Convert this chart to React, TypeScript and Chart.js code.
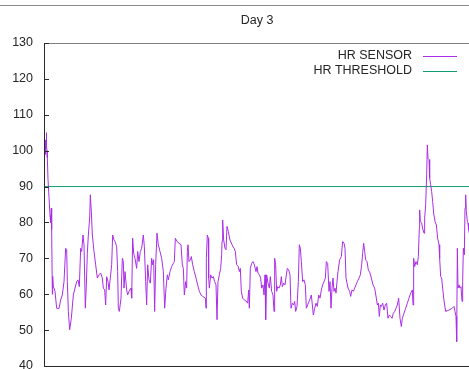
import React, { useEffect, useRef } from 'react';
import { Chart, registerables } from 'chart.js';

Chart.register(...registerables);

const TITLE = 'Day 3';
const SENSOR_LABEL = 'HR SENSOR';
const THRESHOLD_LABEL = 'HR THRESHOLD';
const THRESHOLD = 90;
const Y_MIN = 40;
const Y_MAX = 130;
const Y_STEP = 10;
const X_MIN = 0;
const X_MAX = 1290;

const minute = [
  3, 4, 5, 6, 7, 8, 9, 10, 12, 15,
  18, 20, 22, 23, 25, 26, 28, 30, 33, 38,
  45, 50, 55, 60, 65, 68, 70, 73, 77, 82,
  88, 93, 98, 102, 106, 110, 113, 117, 120, 124,
  127, 130, 133, 137, 139, 142, 145, 150, 155, 160,
  165, 170, 175, 178, 182, 185, 188, 192, 195, 200,
  203, 206, 210,
  213, 218, 221, 223, 226, 231, 235, 238, 240, 243,
  248, 251, 255, 261, 263, 266, 269, 273, 278, 281,
  285, 289, 293, 298, 301, 305, 308, 311, 315, 319,
  323, 326, 329, 332, 335, 339, 343, 348, 353, 358,
  362, 366, 370, 373, 378, 383, 388, 391, 394, 399,
  405, 411, 415, 418, 421, 425,
  428, 430, 432, 435, 439, 442, 446, 451, 456, 461,
  466, 471, 476, 484, 486, 487, 490, 493, 494, 496,
  500, 504, 508, 512, 516, 519, 522, 526, 530, 533,
  534, 536, 539, 543, 546, 549, 553, 558, 564, 570,
  574, 578, 583, 586, 589, 592, 596, 601, 606, 611,
  614, 616, 619, 623, 627, 631, 636,
  639, 642, 646, 650, 653, 657, 660, 663, 665, 668,
  672, 676, 679, 683, 687, 690, 692, 695, 698, 701,
  705, 709, 712, 715, 719, 723, 727, 730, 734, 738,
  741, 745, 749, 752, 755, 759, 763, 766, 769, 772,
  776, 780, 784, 787, 791, 795, 799, 802, 805, 808,
  812, 816, 820, 824, 828, 832, 836, 840, 844, 847,
  851,
  855, 858, 861, 864, 867, 870, 873, 876, 879, 882,
  887, 892, 896, 900, 903, 906, 909, 912, 917, 920,
  924, 928, 932, 936, 940, 945, 949, 953, 956, 959,
  962, 965, 969, 973, 978, 982, 987, 992, 997, 1000,
  1003, 1006, 1009, 1012, 1016, 1020, 1024, 1028, 1032, 1036,
  1040, 1044, 1048, 1052, 1056, 1060,
  1064, 1068, 1072, 1075, 1080, 1085, 1090, 1095, 1100, 1105,
  1107, 1109, 1112, 1116, 1120, 1123, 1126, 1127, 1129, 1133,
  1137, 1140, 1142, 1145, 1148, 1150, 1152, 1155, 1157, 1160,
  1163, 1166, 1169, 1173, 1177, 1181, 1185, 1187, 1190, 1193,
  1196, 1199, 1202, 1205, 1215, 1225, 1230, 1233, 1236, 1238,
  1240, 1242, 1245, 1248, 1251, 1254, 1256, 1258, 1261, 1263,
  1265, 1267, 1270, 1272, 1274, 1278,
];

const hr = [
  100, 103, 99, 102, 105, 101, 100, 98, 92, 87,
  82, 80, 84, 78, 60, 65, 62, 61.7, 60.8, 56.1,
  56, 58.4, 59.8, 63.5, 72.8, 72.4, 63.5, 55.2, 50.1, 53.3,
  59.8, 61.7, 63.5, 64, 62.1, 72.8, 71.9, 76.5, 73.8, 56.1,
  62.6, 71.4, 76.5, 81.2, 87.7, 83, 76.5, 71.9, 68.2, 64.5,
  65.4, 65.9, 64.5, 61.7, 61.2, 57, 64.9, 63.5, 61.2, 65.4,
  68.2, 76.5, 75.1,
  74.7, 73.3, 66.3, 56.1, 55.2, 58.9, 70, 69.1, 61.7, 66.3,
  61.2, 59.8, 60.8, 61.7, 58.9, 75.6, 71.4, 70, 67.2, 71.9,
  69.1, 71.9, 72.8, 76.5, 73.3, 63.5, 57, 68.2, 64, 63.1,
  70, 68.2, 69.6, 55.2, 68.2, 77, 73.8, 71.9, 70, 66.3,
  56.1, 61.7, 65.4, 64, 66.3, 67.7, 68.6, 69.1, 75.6, 74.7,
  74.2, 73.8, 68.2, 67.2, 59.8, 63.5,
  61.7, 71.9, 73.8, 69.1, 69.6, 70.5, 68.2, 66.3, 64.5, 62.6,
  60.8, 59.8, 59.4, 58.9, 56.1, 70, 76.5, 75.6, 64.5, 61.7,
  65.4, 64.5, 64.9, 63.5, 62.6, 52.9, 63.5, 65.4, 67.2, 71,
  74.7, 80.7, 75.1, 72.8, 72.4, 78.9, 77.5, 75.1, 73.8, 72.8,
  71.9, 68.2, 67.7, 66.3, 67.2, 60.8, 58.9, 58.4, 58.1, 57.5,
  61.2, 56.1, 67.2, 68.6, 69.1, 68.2, 66.3,
  67.7, 65.9, 65.4, 64.5, 61.7, 62.6, 59.8, 65.4, 52.9, 65.4,
  63.1, 61.7, 64.9, 60.8, 59.8, 55.2, 70, 68.2, 60.8, 62.1,
  61.7, 62.6, 64.9, 62.1, 63.1, 62.6, 65.4, 67.2, 66.8, 65.4,
  56.1, 57.5, 57, 58, 55.2, 56.6, 63.5, 73.8, 72.8, 69.1,
  63.5, 64, 62.6, 56.1, 57, 58, 58.9, 59.8, 57, 54.2,
  56.1, 57.5, 56.6, 59.8, 58.9, 61.2, 62.6, 63.5, 64.5, 69.1,
  68.6,
  60.8, 63.5, 56.1, 61.7, 64.5, 60.8, 61.7, 60.3, 63.5, 66.3,
  69.6, 70.5, 74.7, 74.2, 72.8, 64.5, 63.1, 61.7, 60.8, 59.4,
  61.2, 60.8, 61.7, 62.6, 63.5, 64.5, 65.4, 68.2, 71.4, 74.2,
  71.9, 69.6, 69.1, 66.8, 65.9, 64.5, 62.6, 61.7, 58.9, 57,
  57.5, 53.8, 57, 56.6, 57.5, 55.6, 57, 57.5, 53.3, 54.2,
  53.8, 53.3, 54.7, 55.2, 56.1, 57,
  58.9, 53.3, 51, 53.3, 54.7, 56.1, 57.5, 58.9, 60.3, 61.2,
  57, 70, 67.7, 69.1, 68.2, 70.5, 78.4, 83.5, 80.3, 79.8,
  77.9, 77, 81.2, 84.9, 93.3, 101.6, 97.9, 97.5, 92.3, 90.5,
  88.6, 85.8, 82.6, 80.3, 79.3, 75.6, 73.8, 70, 64.9, 64.5,
  61.7, 58.9, 57, 55.2, 55.6, 56.1, 56.6, 55.2, 53.8, 46.8,
  72.8, 61.7, 62.6, 61.7, 62.1, 58, 63.5, 72.8, 71, 84,
  87.7, 83, 80.3, 79.8, 78, 76,
];

const FONT = '12.5px "Liberation Sans", Arial, sans-serif';
const TEXT_COLOR = '#262626';
const SENSOR_COLOR = '#aa2ee6';
const THRESHOLD_COLOR = '#119e74';

const decorPlugin = {
  id: 'decor',
  afterDraw(chart: any) {
    const { ctx, chartArea } = chart;
    const { left, right, top, bottom } = chartArea;
    const yScale = chart.scales.y;
    ctx.save();
    // outer frame line at the very top
    ctx.strokeStyle = '#8a8a8a';
    ctx.lineWidth = 1;
    ctx.beginPath();
    ctx.moveTo(0, 5.5);
    ctx.lineTo(chart.width, 5.5);
    ctx.stroke();
    // plot top border (gray)
    ctx.strokeStyle = '#808080';
    ctx.beginPath();
    ctx.moveTo(left, Math.round(top) + 0.5);
    ctx.lineTo(right, Math.round(top) + 0.5);
    ctx.stroke();
    // left and bottom axes (dark)
    ctx.strokeStyle = '#2a2a2a';
    ctx.beginPath();
    ctx.moveTo(Math.round(left) + 0.5, top);
    ctx.lineTo(Math.round(left) + 0.5, bottom + 1);
    ctx.moveTo(left, Math.round(bottom) + 0.5);
    ctx.lineTo(right, Math.round(bottom) + 0.5);
    ctx.stroke();
    // inward tick marks
    ctx.beginPath();
    for (let v = Y_MIN; v <= Y_MAX; v += Y_STEP) {
      const y = Math.round(yScale.getPixelForValue(v)) + 0.5;
      ctx.moveTo(left, y);
      ctx.lineTo(left + 5, y);
    }
    ctx.stroke();
    // title
    ctx.font = FONT;
    ctx.fillStyle = TEXT_COLOR;
    ctx.textAlign = 'center';
    ctx.textBaseline = 'middle';
    ctx.fillText(TITLE, (left + right) / 2 - 2, 21);
    // legend (gnuplot style: text right-aligned, sample line at right)
    chart.data.datasets.forEach((ds: any, i: number) => {
      const y = top + 12.5 + i * 15;
      ctx.textAlign = 'right';
      ctx.fillStyle = TEXT_COLOR;
      ctx.fillText(ds.label, right - 62, y);
      ctx.strokeStyle = ds.borderColor;
      ctx.lineWidth = 1;
      ctx.beginPath();
      ctx.moveTo(right - 51, Math.round(y) + 0.5);
      ctx.lineTo(right - 17, Math.round(y) + 0.5);
      ctx.stroke();
    });
    ctx.restore();
  },
};

export default function App() {
  const canvasRef = useRef<HTMLCanvasElement | null>(null);

  useEffect(() => {
    const canvas = canvasRef.current;
    if (!canvas) return;
    const n = Math.min(minute.length, hr.length);
    const sensorPoints = [] as { x: number; y: number }[];
    for (let i = 0; i < n; i++) sensorPoints.push({ x: minute[i], y: hr[i] });
    const chart = new Chart(canvas, {
      type: 'line',
      data: {
        datasets: [
          {
            label: SENSOR_LABEL,
            data: sensorPoints,
            borderColor: SENSOR_COLOR,
            borderWidth: 1,
            pointRadius: 0,
            tension: 0,
            fill: false,
          },
          {
            label: THRESHOLD_LABEL,
            data: [
              { x: X_MIN, y: THRESHOLD },
              { x: X_MAX, y: THRESHOLD },
            ],
            borderColor: THRESHOLD_COLOR,
            borderWidth: 1,
            pointRadius: 0,
            tension: 0,
            fill: false,
          },
        ],
      },
      plugins: [decorPlugin],
      options: {
        responsive: false,
        animation: false,
        events: [],
        layout: { padding: { top: 43, right: 6, bottom: 19, left: 0 } },
        plugins: {
          legend: { display: false },
          title: { display: false },
          tooltip: { enabled: false },
        },
        scales: {
          x: {
            type: 'linear',
            display: false,
            min: X_MIN,
            max: X_MAX,
          },
          y: {
            type: 'linear',
            min: Y_MIN,
            max: Y_MAX,
            afterFit: (scale: any) => {
              scale.width = 44;
            },
            grid: { display: false, drawTicks: false, tickLength: 0 },
            border: { display: false },
            ticks: {
              stepSize: Y_STEP,
              padding: 11,
              color: TEXT_COLOR,
              font: { family: '"Liberation Sans", Arial, sans-serif', size: 12.5 },
            },
          },
        },
      },
    });
    return () => chart.destroy();
  }, []);

  return (
    <div
      style={{
        position: 'fixed',
        left: 0,
        top: 0,
        width: 469,
        height: 369,
        overflow: 'hidden',
        background: '#fff',
      }}
    >
      <canvas ref={canvasRef} width={480} height={385} style={{ display: 'block' }} />
    </div>
  );
}
